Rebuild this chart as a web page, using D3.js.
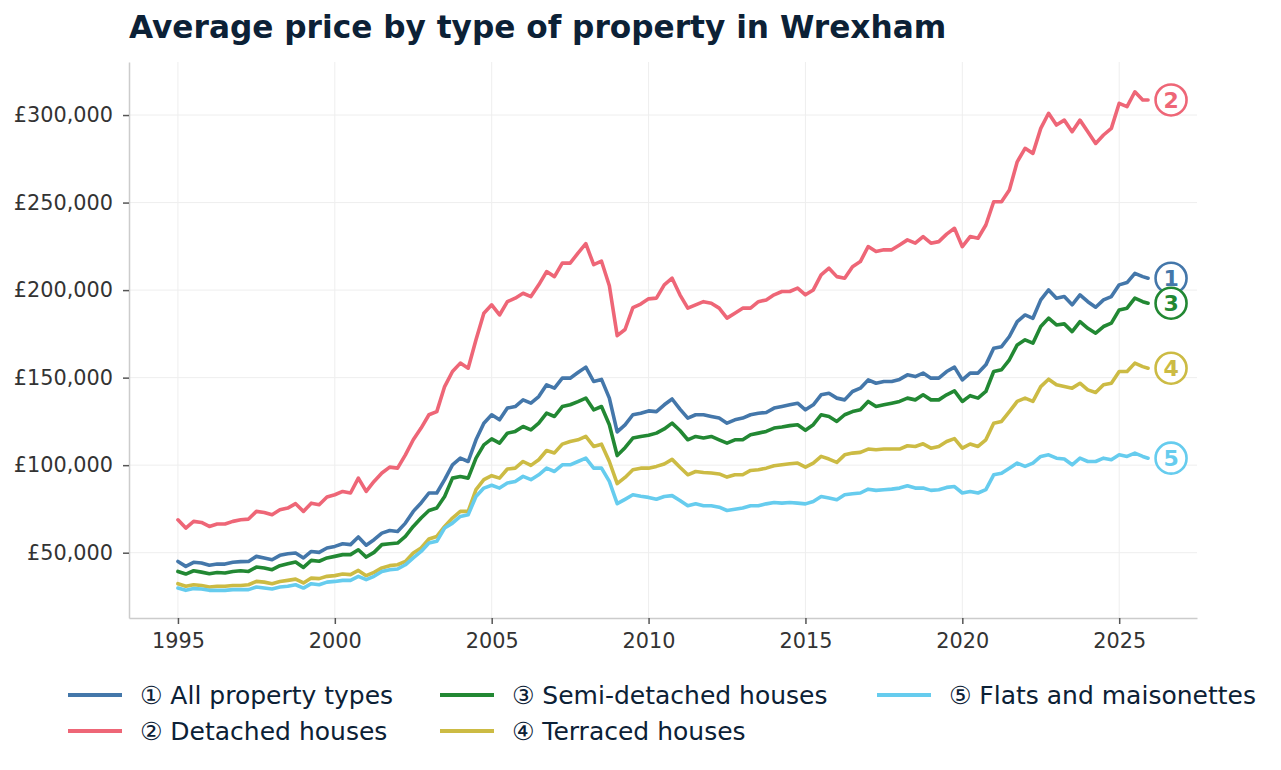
<!DOCTYPE html>
<html>
<head>
<meta charset="utf-8">
<title>Average price by type of property in Wrexham</title>
<style>
  body { margin: 0; background: #fff; }
  svg { display: block; font-family: "DejaVu Sans", sans-serif; }
</style>
</head>
<body>
<script src="https://cdn.jsdelivr.net/npm/d3@7/dist/d3.min.js"></script>
<script>
// readings taken off the chart, one per quarter from Jan 1995, plus the last month (£ thousands)
var quarters = d3.range(124).map(function (i) { return 1995 + i / 4; }).concat([2025.92]);

var allTypes = [
  45.0, 42.2, 44.5, 44.1,  42.8, 43.5, 43.5, 44.5,  44.9, 45.0, 47.9, 47.0,  46.0, 48.5, 49.4, 49.8,
  47.0, 50.7, 50.2, 52.7,  53.6, 55.1, 54.6, 59.0,  54.3, 57.4, 61.2, 62.7,  62.1, 66.9, 73.6, 78.4,
  84.1, 84.1, 91.7, 100.2, 104.0, 102.1, 114.5, 124.0, 128.8, 125.9, 132.6, 133.5, 137.3, 135.4, 139.2, 145.9,
  144.0, 149.7, 149.7, 152.9, 156.0, 147.8, 149.0, 138.3, 119.0, 123.0, 128.8, 129.7, 131.0, 130.6, 134.5, 137.8,
  132.0, 126.9, 128.8, 128.8, 127.8, 126.9, 124.0, 125.9, 126.9, 128.8, 129.7, 130.1, 132.6, 133.5, 134.5, 135.4,
  131.6, 134.5, 140.2, 141.1, 138.3, 137.3, 142.1, 144.0, 148.7, 146.8, 147.8, 147.8, 149.0, 151.6, 150.6, 152.6,
  149.7, 149.7, 153.5, 156.0, 148.7, 152.6, 152.6, 157.3, 166.8, 167.7, 173.5, 182.0, 185.8, 183.9, 194.4, 200.1,
  195.4, 196.3, 191.6, 197.3, 193.4, 190.2, 194.4, 196.3, 203.0, 204.3, 209.6, 207.7, 206.8
];
var detached = [
  68.8, 64.1, 67.9, 67.3,  65.0, 66.4, 66.4, 67.9,  68.8, 69.2, 73.6, 73.0,  71.7, 74.5, 75.5, 78.0,
  73.6, 78.3, 77.4, 81.8,  83.1, 85.0, 84.1, 92.6,  85.0, 90.7, 95.5, 98.9,  98.3, 105.9, 114.5, 121.2,
  128.8, 130.6, 144.9, 153.5, 158.3, 155.4, 171.6, 186.8, 191.6, 185.8, 193.4, 195.4, 198.2, 196.3, 203.0, 210.6,
  207.7, 215.4, 215.4, 221.1, 226.5, 214.5, 216.5, 202.5, 174.0, 177.5, 190.0, 192.0, 195.0, 195.4, 203.0, 206.8,
  197.3, 189.7, 191.6, 193.4, 192.5, 189.7, 184.0, 186.8, 189.7, 189.7, 193.4, 194.4, 197.3, 199.2, 199.2, 201.1,
  197.3, 200.1, 208.7, 212.5, 207.7, 206.8, 213.4, 216.3, 224.9, 222.1, 223.0, 223.0, 225.8, 228.7, 226.8, 230.6,
  226.8, 227.7, 232.0, 235.3, 224.8, 230.6, 229.6, 237.2, 250.5, 250.5, 257.2, 273.3, 281.0, 278.1, 292.4, 301.0,
  294.3, 297.1, 290.5, 297.1, 290.5, 283.8, 288.6, 292.4, 306.7, 304.8, 313.3, 308.6, 308.6
];
var semiDetached = [
  39.3, 37.8, 39.7, 38.9,  38.0, 38.7, 38.4, 39.3,  39.7, 39.3, 41.8, 41.3,  40.3, 42.6, 43.7, 44.7,
  41.6, 45.6, 45.1, 47.0,  47.9, 48.9, 48.9, 51.7,  47.5, 50.2, 54.6, 55.1,  55.5, 59.3, 65.0, 69.8,
  74.1, 75.5, 82.1, 92.6,  93.5, 92.6, 104.0, 111.6, 115.0, 112.6, 118.3, 119.3, 122.1, 120.2, 124.0, 129.7,
  127.8, 133.5, 134.5, 136.3, 138.3, 131.6, 133.5, 123.1, 105.5, 110.0, 115.5, 116.4, 117.1, 118.3, 120.7, 124.0,
  119.8, 114.5, 116.4, 115.5, 116.4, 114.5, 112.6, 114.5, 114.5, 117.4, 118.3, 119.3, 121.2, 121.8, 122.6, 123.1,
  119.9, 123.1, 128.8, 127.8, 125.0, 128.8, 130.6, 131.6, 136.4, 133.5, 134.5, 135.4, 136.4, 138.3, 137.3, 140.2,
  137.3, 137.3, 140.2, 142.4, 136.4, 139.7, 138.3, 142.1, 153.5, 154.5, 160.2, 168.7, 171.6, 169.7, 179.2, 184.0,
  180.1, 180.7, 176.3, 182.0, 178.2, 175.4, 179.2, 181.1, 188.7, 189.7, 195.4, 193.4, 192.5
];
var terraced = [
  32.3, 30.8, 31.7, 31.3,  30.4, 30.8, 30.8, 31.3,  31.3, 31.7, 33.6, 33.2,  32.3, 33.6, 34.2, 34.9,
  32.7, 35.5, 35.2, 36.5,  36.9, 37.8, 37.5, 39.9,  36.9, 38.8, 41.3, 42.6,  43.1, 45.0, 49.8, 52.7,
  57.8, 59.3, 65.0, 69.8,  73.6, 73.6, 86.0, 91.7,  94.0, 92.6, 97.8, 98.3,  102.1, 99.9, 103.1, 108.4,
  107.0, 112.0, 113.5, 114.5, 116.4, 110.7, 112.0, 102.1, 89.5, 93.0, 97.4, 98.3, 98.3, 99.3, 100.7, 103.3,
  98.8, 94.5, 96.4, 95.8,  95.5, 95.0, 93.2, 94.5,  94.5, 97.0, 97.4, 98.3,  99.7, 100.2, 100.8, 101.2,
  98.9, 101.2, 105.0, 103.5, 101.6, 105.9, 106.9, 107.3, 109.2, 108.8, 109.2, 109.2, 109.2, 111.1, 110.7, 112.2,
  109.7, 110.7, 113.5, 115.2, 109.7, 112.1, 110.7, 114.5, 124.0, 125.0, 130.6, 136.4, 138.3, 136.4, 144.9, 149.1,
  145.9, 144.9, 144.0, 146.8, 143.0, 141.5, 145.9, 146.8, 153.5, 153.5, 158.3, 156.3, 155.4
];
var flats = [
  29.8, 28.5, 29.5, 29.3,  28.5, 28.5, 28.5, 28.9,  28.9, 28.9, 30.4, 29.8,  29.3, 30.4, 30.8, 31.7,
  29.8, 32.3, 31.7, 33.2,  33.6, 34.2, 34.2, 36.5,  34.6, 36.5, 39.3, 40.3,  40.7, 43.1, 47.0, 50.7,
  55.5, 56.5, 64.1, 66.9,  70.7, 71.7, 82.1, 86.9,  88.5, 86.9, 89.8, 90.7,  93.6, 91.7, 94.5, 98.3,
  96.4, 100.2, 100.2, 102.1, 104.0, 98.3, 98.3, 90.7, 78.0, 80.5, 83.1, 82.2, 81.6, 80.5, 82.1, 82.6,
  79.8, 76.8, 77.9, 76.8,  76.8, 76.0, 74.1, 74.8,  75.5, 76.8, 76.8, 77.9,  78.7, 78.3, 78.7, 78.3,
  77.9, 79.3, 82.1, 81.2,  80.3, 83.1, 83.7, 84.1,  86.3, 85.6, 86.0, 86.3,  86.9, 88.2, 86.9, 86.9,
  85.6, 86.0, 87.3, 87.8,  84.1, 85.0, 84.1, 86.0,  94.5, 95.4, 98.3, 101.2, 99.3, 101.2, 105.0, 105.9,
  104.0, 103.5, 100.2, 104.0, 102.1, 102.1, 104.0, 103.1, 105.9, 105.0, 106.9, 105.0, 104.0
];

var seriesNames = ["All property types", "Detached houses", "Semi-detached houses", "Terraced houses", "Flats and maisonettes"];
var seriesMarks = ["\u2460", "\u2461", "\u2462", "\u2463", "\u2464"];
var seriesNumbers = ["1", "2", "3", "4", "5"];
var seriesColours = ["#4477aa", "#ee6677", "#228833", "#ccbb44", "#66ccee"];
var seriesValues = [allTypes, detached, semiDetached, terraced, flats];

var yearTicks = [1995, 2000, 2005, 2010, 2015, 2020, 2025];
var priceTicks = [50, 100, 150, 200, 250, 300];

var width = 1281, height = 770;
var plot = { left: 129, right: 1197, top: 62, bottom: 618 };

var svg = d3.select("body").append("svg")
    .attr("width", width)
    .attr("height", height);

var x = d3.scaleLinear().domain([1993.44, 2027.48]).range([plot.left, plot.right]);
var y = d3.scaleLinear().domain([12.7, 330.3]).range([plot.bottom, plot.top]);

// title
svg.append("text")
    .attr("x", plot.left)
    .attr("y", 38)
    .style("font-size", "31.2px")
    .style("font-weight", "bold")
    .style("fill", "#0c2136")
    .text("Average price by type of property in Wrexham");

// grid
var grid = svg.append("g").style("stroke", "#eeeeee").style("stroke-width", 1);
grid.selectAll("line.v").data(yearTicks).enter().append("line")
    .attr("x1", function (d) { return x(d); }).attr("x2", function (d) { return x(d); })
    .attr("y1", plot.top).attr("y2", plot.bottom);
grid.selectAll("line.h").data(priceTicks).enter().append("line")
    .attr("x1", plot.left).attr("x2", plot.right)
    .attr("y1", function (d) { return y(d); }).attr("y2", function (d) { return y(d); });

// axes
var xAxis = svg.append("g")
    .attr("transform", "translate(0," + plot.bottom + ")")
    .call(d3.axisBottom(x).tickValues(yearTicks).tickFormat(d3.format("d"))
        .tickSize(6).tickSizeOuter(0).tickPadding(9));
var yAxis = svg.append("g")
    .attr("transform", "translate(" + plot.left + ",0)")
    .call(d3.axisLeft(y).tickValues(priceTicks)
        .tickFormat(function (d) { return "\u00a3" + d3.format(",")(d * 1000); })
        .tickSize(6).tickSizeOuter(0).tickPadding(10));

[xAxis, yAxis].forEach(function (a) {
  a.select(".domain").style("stroke", "#cccccc").style("stroke-width", 1.5);
  a.selectAll(".tick line").style("stroke", "#555555").style("stroke-width", 1.5);
  a.selectAll(".tick text")
      .style("font-family", "DejaVu Sans, sans-serif")
      .style("font-size", "20.8px")
      .style("fill", "#333333");
});

// lines
var line = d3.line()
    .x(function (d, i) { return x(quarters[i]); })
    .y(function (d) { return y(d); });

svg.append("g").selectAll("path")
    .data(seriesValues).enter().append("path")
    .attr("d", line)
    .style("fill", "none")
    .style("stroke", function (d, i) { return seriesColours[i]; })
    .style("stroke-width", 3.6)
    .style("stroke-linejoin", "round")
    .style("stroke-linecap", "round");

// numbered end labels
var lastX = x(quarters[quarters.length - 1]) + 23;
var ends = svg.append("g").selectAll("g")
    .data(seriesValues).enter().append("g")
    .attr("transform", function (d) { return "translate(" + lastX + "," + y(d[d.length - 1]) + ")"; });
ends.append("circle")
    .attr("r", 15.5)
    .style("fill", "#fff")
    .style("stroke", function (d, i) { return seriesColours[i]; })
    .style("stroke-width", 2.6);
ends.append("text")
    .attr("text-anchor", "middle")
    .attr("dy", "0.36em")
    .style("font-size", "22px")
    .style("font-weight", "bold")
    .style("fill", function (d, i) { return seriesColours[i]; })
    .text(function (d, i) { return seriesNumbers[i]; });

// legend, three columns of two rows
var legendCols = [68, 440, 877], legendRows = [695, 731];
var legend = svg.append("g").selectAll("g")
    .data(seriesNames).enter().append("g")
    .attr("transform", function (d, i) {
      return "translate(" + legendCols[Math.floor(i / 2)] + "," + legendRows[i % 2] + ")";
    });
legend.append("line")
    .attr("x1", 0).attr("x2", 54)
    .style("stroke", function (d, i) { return seriesColours[i]; })
    .style("stroke-width", 3.8);
legend.append("text")
    .attr("x", 72)
    .attr("dy", "0.36em")
    .style("font-size", "25px")
    .style("fill", "#0c2136")
    .text(function (d, i) { return seriesMarks[i] + " " + d; });
</script>
</body>
</html>
